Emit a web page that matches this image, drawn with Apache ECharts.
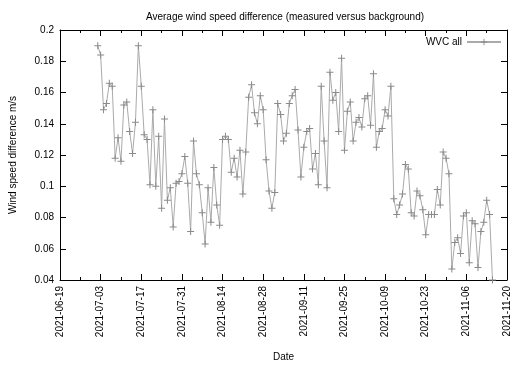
<!DOCTYPE html>
<html>
<head>
<meta charset="utf-8">
<script src="https://cdn.jsdelivr.net/npm/echarts@6/dist/echarts.min.js"></script>
<style>html,body{margin:0;padding:0;background:#fff}#c{width:525px;height:367px}</style>
</head>
<body>
<div id="c"></div>
<script>
// ---- data ----
const axisStart = '2021-06-19';
const axisEnd = '2021-11-20';
const firstDate = '2021-07-02';   // daily values from this date
const seriesName = 'WVC all';
const windDiff = [
  0.190, 0.184, 0.149, 0.153, 0.166, 0.164, 0.118, 0.131, 0.116, 0.152,
  0.154, 0.135, 0.121, 0.141, 0.190, 0.164, 0.133, 0.130, 0.101, 0.149,
  0.100, 0.132, 0.086, 0.143, 0.091, 0.099, 0.074, 0.102, 0.103, 0.108,
  0.119, 0.102, 0.071, 0.129, 0.108, 0.101, 0.083, 0.063, 0.099, 0.077,
  0.112, 0.088, 0.075, 0.130, 0.132, 0.130, 0.109, 0.118, 0.106, 0.123,
  0.095, 0.122, 0.157, 0.165, 0.147, 0.140, 0.158, 0.149, 0.117, 0.097,
  0.086, 0.096, 0.153, 0.146, 0.129, 0.134, 0.153, 0.158, 0.162, 0.136,
  0.106, 0.125, 0.135, 0.137, 0.111, 0.121, 0.101, 0.164, 0.129, 0.099,
  0.173, 0.155, 0.160, 0.135, 0.182, 0.123, 0.148, 0.154, 0.129, 0.141,
  0.144, 0.138, 0.156, 0.158, 0.139, 0.172, 0.125, 0.135, 0.137, 0.149,
  0.145, 0.164, 0.092, 0.082, 0.088, 0.095, 0.114, 0.111, 0.083, 0.081,
  0.097, 0.094, 0.085, 0.069, 0.082, 0.082, 0.082, 0.098, 0.088, 0.122,
  0.118, 0.108, 0.047, 0.064, 0.067, 0.057, 0.081, 0.083, 0.051, 0.078,
  0.076, 0.048, 0.071, 0.077, 0.091, 0.082, 0.040
];
const yTicks = [0.04, 0.06, 0.08, 0.10, 0.12, 0.14, 0.16, 0.18, 0.20];
const xTickDays = 14;

// ---- helpers ----
const DAY = 86400000;
function parseUTC(s){const p=s.split('-').map(Number);return Date.UTC(p[0],p[1]-1,p[2]);}
const t0 = parseUTC(axisStart);
const xMax = (parseUTC(axisEnd)-t0)/DAY;
const firstOff = (parseUTC(firstDate)-t0)/DAY;
function fmtDate(off){
  const d=new Date(t0+off*DAY);
  const m=String(d.getUTCMonth()+1).padStart(2,'0');
  const dd=String(d.getUTCDate()).padStart(2,'0');
  return d.getUTCFullYear()+'-'+m+'-'+dd;
}
const points = windDiff.map((v,i)=>[firstOff+i, v]);

const FONT = 'Liberation Sans, Arial, Helvetica, sans-serif';
const plus = 'path://M6,0H8V6H14V8H8V14H6V8H0V6H6Z';

const baseX = {
  type:'value', min:0, max:xMax, interval:xTickDays,
  axisLine:{show:true,onZero:false,lineStyle:{color:'#000',width:1}},
  axisTick:{show:true,inside:true,length:6,lineStyle:{color:'#000'}},
  minorTick:{show:true,splitNumber:2,length:3,lineStyle:{color:'#000'}},
  splitLine:{show:false}
};
const baseY = {
  type:'value', min:yTicks[0], max:yTicks[yTicks.length-1], interval:0.02,
  axisLine:{show:true,onZero:false,lineStyle:{color:'#000',width:1}},
  axisTick:{show:true,inside:true,length:6,lineStyle:{color:'#000'}},
  splitLine:{show:false}
};

const chart = echarts.init(document.getElementById('c'), null, {renderer:'canvas'});
chart.setOption({
  animation:false,
  backgroundColor:'#fff',
  textStyle:{fontFamily:FONT},
  title:{
    text:'Average wind speed difference (measured versus background)',
    left:280, top:7, textAlign:'center',
    textStyle:{fontSize:10,fontWeight:'normal',color:'#000',fontFamily:FONT}
  },
  legend:{
    data:[seriesName], right:18, top:32, align:'right',
    itemWidth:34, itemHeight:8, itemGap:4,
    textStyle:{fontSize:10,color:'#000',fontFamily:FONT}
  },
  grid:{left:56, right:18, top:30, bottom:84},
  xAxis:[
    Object.assign({}, baseX, {
      position:'bottom',
      name:'Date', nameLocation:'middle', nameGap:72,
      nameTextStyle:{fontSize:10,color:'#000',fontFamily:FONT},
      axisLabel:{show:true,rotate:90,margin:6,fontSize:10,color:'#000',fontFamily:FONT,
        formatter:v=>fmtDate(v)}
    }),
    Object.assign({}, baseX, {position:'top', axisLabel:{show:false}})
  ],
  yAxis:[
    Object.assign({}, baseY, {
      position:'left',
      name:'Wind speed difference m/s', nameLocation:'middle', nameGap:42,
      nameTextStyle:{fontSize:10,color:'#000',fontFamily:FONT},
      axisLabel:{show:true,margin:6,fontSize:10,color:'#000',fontFamily:FONT,
        formatter:v=>String(+v.toFixed(2))}
    }),
    Object.assign({}, baseY, {position:'right', axisLabel:{show:false}})
  ],
  series:[{
    name:seriesName, type:'line', data:points,
    xAxisIndex:0, yAxisIndex:0,
    symbol:plus, symbolSize:7, showAllSymbol:true,
    lineStyle:{color:'#aaaaaa',width:1},
    itemStyle:{color:'#8a8a8a'},
    clip:true
  }]
});
</script>
</body>
</html>
